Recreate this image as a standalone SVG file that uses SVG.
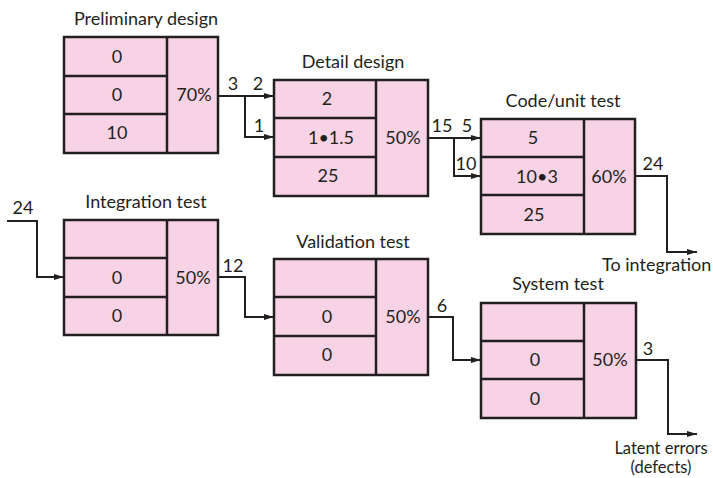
<svg xmlns="http://www.w3.org/2000/svg" width="713" height="478" viewBox="0 0 713 478">
<defs>
<style>
.box{fill:#f8d3e5;stroke:#231f20;stroke-width:2.5}
.ln{fill:none;stroke:#231f20;stroke-width:2.5}
.t{font-family:Lato,"Noto Sans","Liberation Sans",sans-serif;font-size:18px;fill:#231f20;text-anchor:middle}
.s{text-anchor:start}
.sm{font-size:16.5px}
.wire{fill:none;stroke:#231f20;stroke-width:2;marker-end:url(#ah)}
</style>
<marker id="ah" viewBox="0 0 10 6" refX="10" refY="3" markerWidth="10" markerHeight="6" markerUnits="userSpaceOnUse" orient="auto">
<path d="M0,0 L10,3 L0,6 z" fill="#231f20"/>
</marker>
</defs>
<rect width="713" height="478" fill="#fff"/>

<g id="preliminary-design">
<text class="t" x="146" y="25">Preliminary design</text>
<rect class="box" x="64" y="37" width="154" height="116"/>
<path class="ln" d="M167,37V153M64,76H167M64,114H167"/>
<text class="t" x="117" y="63">0</text>
<text class="t" x="117" y="101">0</text>
<text class="t" x="117" y="139">10</text>
<text class="t" x="194" y="101">70%</text>
</g>

<g id="detail-design">
<text class="t" x="353" y="68">Detail design</text>
<rect class="box" x="274" y="80" width="154" height="116"/>
<path class="ln" d="M376,80V196M274,118H376M274,157H376"/>
<text class="t" x="327" y="105">2</text>
<text class="t" x="331" y="144">1•1.5</text>
<text class="t" x="328" y="182">25</text>
<text class="t" x="403" y="144">50%</text>
</g>

<g id="code-unit-test">
<text class="t" x="563" y="107">Code/unit test</text>
<rect class="box" x="481" y="119" width="154" height="115"/>
<path class="ln" d="M584,119V234M481,157H584M481,195H584"/>
<text class="t" x="533" y="144">5</text>
<text class="t" x="537" y="183">10•3</text>
<text class="t" x="534" y="221">25</text>
<text class="t" x="609" y="183">60%</text>
</g>

<g id="integration-test">
<text class="t" x="146" y="208">Integration test</text>
<rect class="box" x="64" y="220" width="154" height="115"/>
<path class="ln" d="M167,220V335M64,258H167M64,297H167"/>
<text class="t" x="117" y="284">0</text>
<text class="t" x="117" y="322">0</text>
<text class="t" x="193" y="284">50%</text>
</g>

<g id="validation-test">
<text class="t" x="353" y="248">Validation test</text>
<rect class="box" x="274" y="259" width="154" height="116"/>
<path class="ln" d="M376,259V375M274,297H376M274,336H376"/>
<text class="t" x="327" y="323">0</text>
<text class="t" x="327" y="361">0</text>
<text class="t" x="403" y="323">50%</text>
</g>

<g id="system-test">
<text class="t" x="558" y="290">System test</text>
<rect class="box" x="481" y="303" width="155" height="115"/>
<path class="ln" d="M584,303V418M481,341H584M481,379H584"/>
<text class="t" x="535" y="366">0</text>
<text class="t" x="535" y="405">0</text>
<text class="t" x="610" y="366">50%</text>
</g>

<g id="connectors">
<path class="wire" d="M218,96H274"/>
<path class="wire" d="M245,96V137H274"/>
<text class="t" x="233" y="90">3</text>
<text class="t" x="258" y="90">2</text>
<text class="t" x="259" y="132">1</text>

<path class="wire" d="M428,138H481"/>
<path class="wire" d="M454,138V176H481"/>
<text class="t" x="442" y="132">15</text>
<text class="t" x="467" y="132">5</text>
<text class="t" x="466" y="170">10</text>

<path class="wire" d="M635,176H667V252H697"/>
<text class="t" x="653" y="170">24</text>
<text class="t s" x="602" y="271">To integration</text>

<path class="wire" d="M7,221H37V277H64"/>
<text class="t" x="23" y="214">24</text>

<path class="wire" d="M218,277H245V317H274"/>
<text class="t" x="233" y="272">12</text>

<path class="wire" d="M428,317H453V360H481"/>
<text class="t" x="442" y="312">6</text>

<path class="wire" d="M636,360H668V434H697"/>
<text class="t" x="648" y="355">3</text>
<text class="t sm" x="661" y="454">Latent errors</text>
<text class="t sm" x="661" y="473">(defects)</text>
</g>
</svg>
